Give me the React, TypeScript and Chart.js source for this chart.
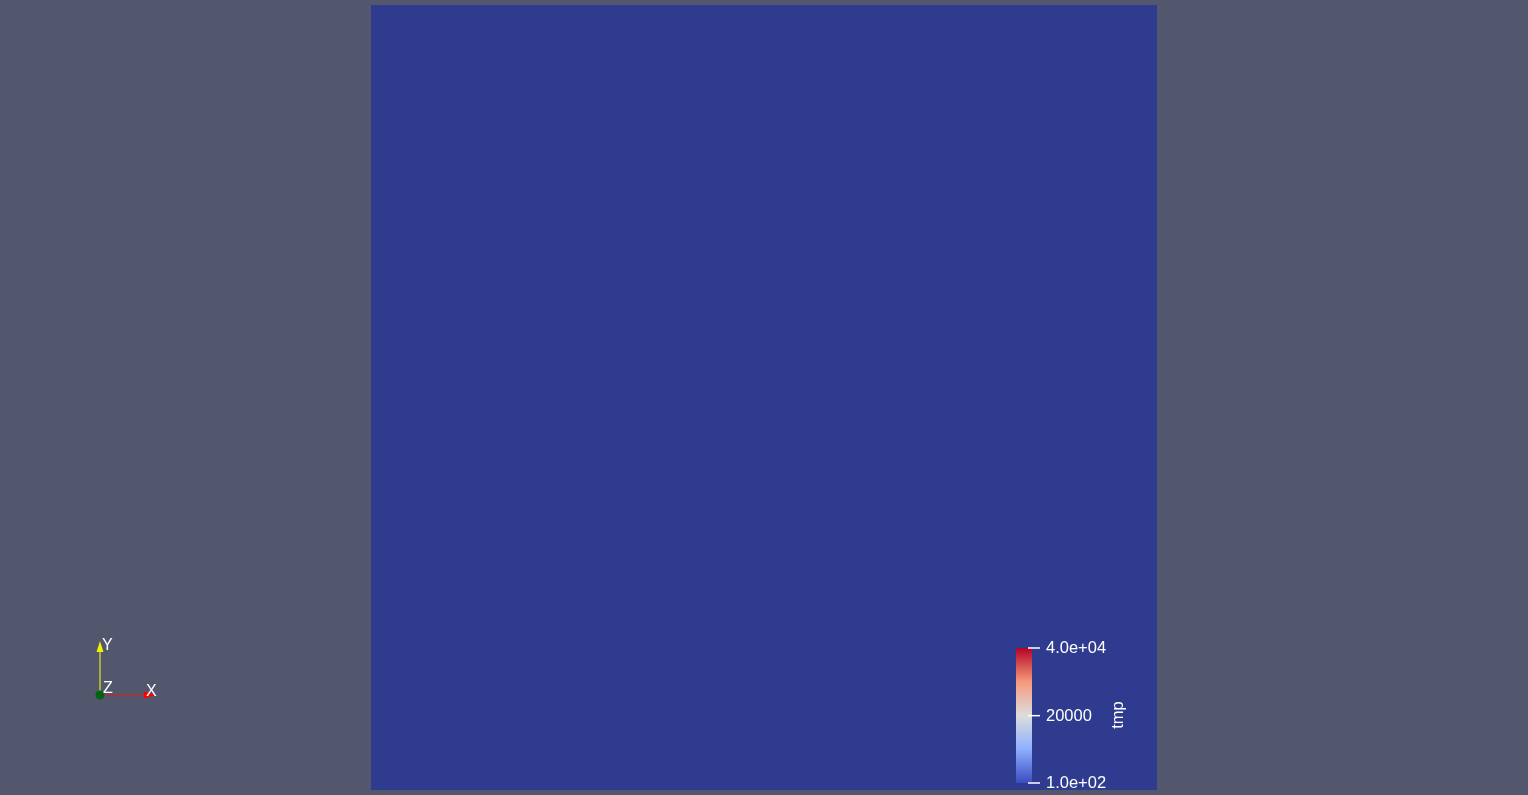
import React, { useEffect, useRef } from "react";
import { Chart, registerables } from "chart.js";

Chart.register(...registerables);

const categories = ["tmp"];
const fieldValues = [1];
const colorbarTicks = [40000, 20000, 100];
const colorbarLabels = ["4.0e+04", "20000", "1.0e+02"];
const colorbarRange = [100, 40000];
const colorbarTitle = "tmp";

const overlayPlugin = {
  id: "overlay",
  afterDraw(chart: any) {
    const ctx = chart.ctx as CanvasRenderingContext2D;
    ctx.save();
    // colour bar
    const bx = 1016, bw = 16, top = 648, bottom = 783;
    const g = ctx.createLinearGradient(0, bottom, 0, top);
    g.addColorStop(0, "rgb(59,76,192)");
    g.addColorStop(0.25, "rgb(141,176,254)");
    g.addColorStop(0.5, "rgb(221,221,221)");
    g.addColorStop(0.75, "rgb(244,154,123)");
    g.addColorStop(1, "rgb(180,4,38)");
    ctx.fillStyle = g;
    ctx.fillRect(bx, top, bw, bottom - top);
    ctx.strokeStyle = "#ffffff";
    ctx.lineWidth = 1.5;
    ctx.fillStyle = "#ffffff";
    ctx.font = "16.5px 'Liberation Sans', Arial, sans-serif";
    ctx.textBaseline = "middle";
    ctx.textAlign = "left";
    const [lo, hi] = colorbarRange;
    colorbarTicks.forEach((t, i) => {
      const y = bottom - ((t - lo) / (hi - lo)) * (bottom - top);
      ctx.beginPath();
      ctx.moveTo(1028, y);
      ctx.lineTo(1040, y);
      ctx.stroke();
      ctx.fillText(colorbarLabels[i], 1046, y + 0.5);
    });
    ctx.save();
    ctx.translate(1118, 715);
    ctx.rotate(-Math.PI / 2);
    ctx.textAlign = "center";
    ctx.fillText(colorbarTitle, 0, 0);
    ctx.restore();

    // orientation triad
    const ox = 100, oy = 695;
    ctx.lineWidth = 1.2;
    ctx.strokeStyle = "rgb(230,230,40)";
    ctx.beginPath();
    ctx.moveTo(ox, oy);
    ctx.lineTo(ox, 650);
    ctx.stroke();
    ctx.fillStyle = "rgb(240,240,0)";
    ctx.beginPath();
    ctx.moveTo(ox, 641);
    ctx.lineTo(ox - 3.5, 652);
    ctx.lineTo(ox + 3.5, 652);
    ctx.closePath();
    ctx.fill();
    ctx.strokeStyle = "rgb(220,30,30)";
    ctx.beginPath();
    ctx.moveTo(ox, oy);
    ctx.lineTo(146, oy);
    ctx.stroke();
    ctx.fillStyle = "rgb(255,0,0)";
    ctx.beginPath();
    ctx.moveTo(156, oy);
    ctx.lineTo(144, oy - 3.5);
    ctx.lineTo(144, oy + 3.5);
    ctx.closePath();
    ctx.fill();
    ctx.fillStyle = "rgb(0,100,20)";
    ctx.beginPath();
    ctx.arc(ox, oy, 4.5, 0, Math.PI * 2);
    ctx.fill();
    ctx.fillStyle = "#ffffff";
    ctx.font = "16px 'Liberation Sans', Arial, sans-serif";
    ctx.textAlign = "left";
    ctx.textBaseline = "middle";
    ctx.fillText("Y", 102, 646);
    ctx.fillText("Z", 103, 689);
    ctx.fillText("X", 146, 691.5);
    ctx.restore();
  },
};

export default function App() {
  const ref = useRef<HTMLCanvasElement | null>(null);
  useEffect(() => {
    document.body.style.margin = "0";
    const chart = new Chart(ref.current!, {
      type: "bar",
      data: {
        labels: categories,
        datasets: [
          {
            data: fieldValues,
            backgroundColor: "rgb(47,59,142)",
            borderWidth: 0,
            barPercentage: 1,
            categoryPercentage: 1,
          },
        ],
      },
      options: {
        animation: false,
        responsive: false,
        layout: { padding: { left: 371, right: 371, top: 5, bottom: 5 } },
        plugins: { legend: { display: false }, tooltip: { enabled: false } },
        scales: {
          x: { display: false },
          y: { display: false, min: 0, max: 1 },
        },
      },
      plugins: [overlayPlugin],
    });
    return () => chart.destroy();
  }, []);
  return (
    <div style={{ position: "fixed", inset: 0, background: "rgb(82,87,110)" }}>
      <canvas ref={ref} width={1528} height={795} style={{ display: "block" }} />
    </div>
  );
}
